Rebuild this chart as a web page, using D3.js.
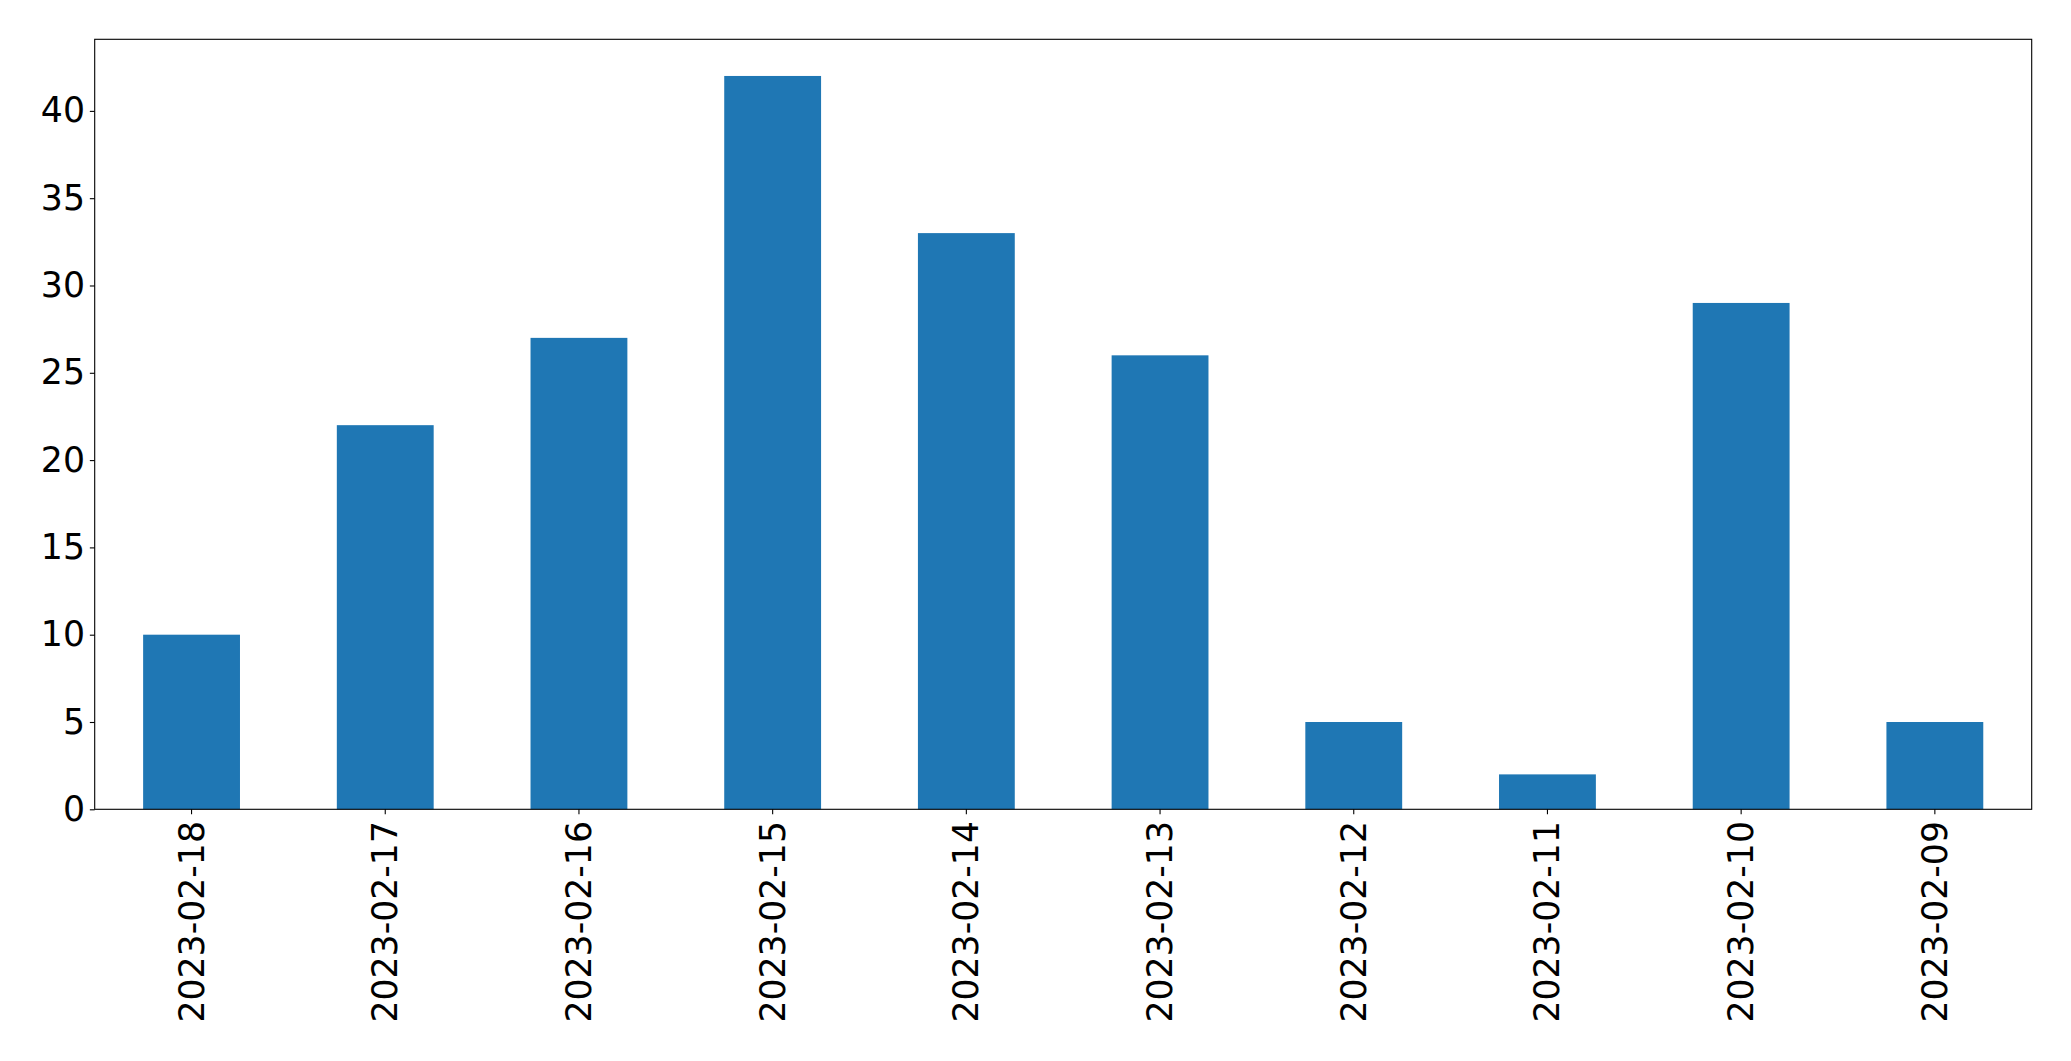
<!DOCTYPE html>
<html><head><meta charset="utf-8">
<script src="https://cdn.jsdelivr.net/npm/d3@7"></script>
<style>body{margin:0;background:#fff;} svg{display:block;}</style>
</head><body>
<svg id="chart" width="2071" height="1061"></svg>
<script>
const categories = ["2023-02-18","2023-02-17","2023-02-16","2023-02-15","2023-02-14","2023-02-13","2023-02-12","2023-02-11","2023-02-10","2023-02-09"];
const values = [10,22,27,42,33,26,5,2,29,5];
const yTicks = [0,5,10,15,20,25,30,35,40];

const W = 2071, H = 1061;
const m = {left: 94.7, top: 39.3, right: 2031.7, bottom: 809.3};
const svg = d3.select("#chart");
const font = "DejaVu Sans, sans-serif";
const fs = 34.7;
const tickLen = 4.86, pad = 4.86;

const x = d3.scaleBand().domain(categories).range([m.left, m.right]).paddingInner(0.5).paddingOuter(0.25);
const y = d3.scaleLinear().domain([0, d3.max(values) * 1.05]).range([m.bottom, m.top]);

svg.append("g").selectAll("rect").data(values).join("rect")
  .attr("x", (d, i) => x(categories[i]))
  .attr("width", x.bandwidth())
  .attr("y", d => y(d))
  .attr("height", d => y(0) - y(d))
  .attr("fill", "#1f77b4");

// y axis
const ya = svg.append("g").attr("transform", `translate(${m.left},0)`)
  .call(d3.axisLeft(y).tickValues(yTicks).tickSize(tickLen).tickPadding(pad).tickFormat(d3.format("d")));
ya.select(".domain").remove();
ya.selectAll("line").attr("stroke", "#000").attr("stroke-width", 1.1);
ya.selectAll("text").attr("font-family", font).attr("font-size", fs).attr("fill", "#000");

// x axis
const xa = svg.append("g").attr("transform", `translate(0,${m.bottom})`)
  .call(d3.axisBottom(x).tickSize(tickLen).tickPadding(pad));
xa.select(".domain").remove();
xa.selectAll("line").attr("stroke", "#000").attr("stroke-width", 1.1);
xa.selectAll("text")
  .attr("font-family", font).attr("font-size", fs).attr("fill", "#000")
  .attr("text-anchor", "end")
  .attr("dy", null)
  .attr("dominant-baseline", "central")
  .attr("transform", `translate(0,${tickLen + pad + 2}) rotate(-90)`)
  .attr("x", 0).attr("y", 0);

// frame
svg.append("rect")
  .attr("x", m.left).attr("y", m.top)
  .attr("width", m.right - m.left).attr("height", m.bottom - m.top)
  .attr("fill", "none").attr("stroke", "#000").attr("stroke-width", 1.1);
</script>
</body></html>
